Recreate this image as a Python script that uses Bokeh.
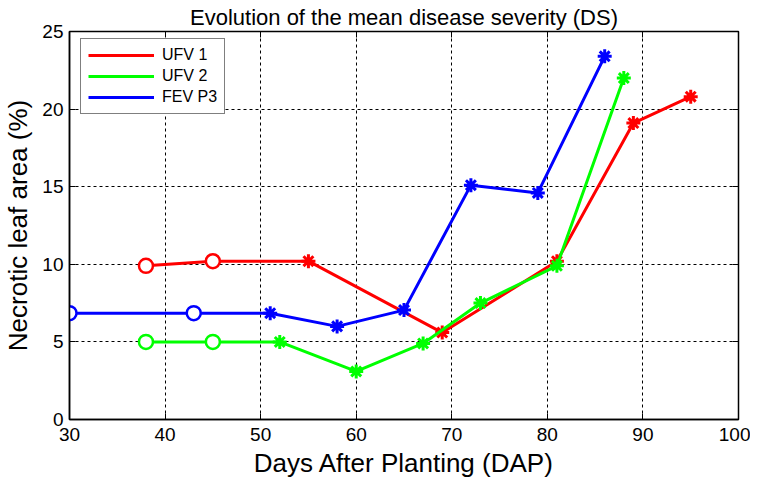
from bokeh.plotting import figure
from bokeh.models import LinearAxis, Legend, LegendItem, Range1d, FixedTicker
from bokeh.embed import file_html
from bokeh.resources import INLINE

# ---- data ----
ufv1_days = [38, 45, 55, 69, 81, 89, 95]
ufv1_ds = [9.9, 10.2, 10.2, 5.6, 10.2, 19.1, 20.8]
ufv2_days = [38, 45, 52, 60, 67, 73, 81, 88]
ufv2_ds = [5.0, 5.0, 5.0, 3.1, 4.9, 7.5, 9.9, 22.0]
fevp3_days = [30, 43, 51, 58, 65, 72, 79, 86]
fevp3_ds = [6.85, 6.85, 6.85, 6.0, 7.05, 15.1, 14.6, 23.4]
n_open = [2, 2, 2]  # first assessments drawn as open circles
series_names = ["UFV 1", "UFV 2", "FEV P3"]
series_colors = ["#FF0000", "#00FF00", "#0000FF"]
x_ticks = [30, 40, 50, 60, 70, 80, 90, 100]
y_ticks = [0, 5, 10, 15, 20, 25]

FONT = "Liberation Sans"

p = figure(width=750, height=480, x_range=Range1d(30, 100), y_range=Range1d(0, 25),
           output_backend="svg", toolbar_location=None,
           min_border_left=60, min_border_right=12, min_border_top=31, min_border_bottom=59)
p.title.text = "Evolution of the mean disease severity (DS)"
p.title.text_font = FONT
p.title.text_font_size = "22px"
p.title.text_font_style = "normal"
p.title.text_color = "black"
p.title.align = "center"
p.title.offset = 0
p.title.standoff = 3

p.outline_line_color = "black"
p.outline_line_width = 1.5
p.outline_line_alpha = 1

for ax in p.xaxis + p.yaxis:
    ax.major_label_text_font = FONT
    ax.major_label_text_font_size = "19px"
    ax.major_label_text_color = "black"
    ax.axis_label_text_font = FONT
    ax.axis_label_text_font_size = "26px"
    ax.axis_label_text_font_style = "normal"
    ax.axis_label_text_color = "black"
    ax.axis_line_color = "black"
    ax.axis_line_width = 1.5
    ax.major_tick_in = 6
    ax.major_tick_out = 0
    ax.major_tick_line_color = "black"
    ax.minor_tick_line_color = None

p.xaxis.ticker = FixedTicker(ticks=x_ticks)
p.yaxis.ticker = FixedTicker(ticks=y_ticks)
p.xaxis.axis_label = "Days After Planting (DAP)"
p.yaxis.axis_label = "Necrotic leaf area (%)"
p.xaxis.major_label_standoff = 8
p.yaxis.major_label_standoff = 6
p.xaxis.axis_label_standoff = 4
p.yaxis.axis_label_standoff = 6

# mirrored inward ticks on top and right
top = LinearAxis(ticker=FixedTicker(ticks=x_ticks), major_label_text_font_size="0px",
                 major_tick_in=6, major_tick_out=0, axis_line_color=None,
                 minor_tick_line_color=None, major_label_standoff=0)
right = LinearAxis(ticker=FixedTicker(ticks=y_ticks), major_label_text_font_size="0px",
                   major_tick_in=6, major_tick_out=0, axis_line_color=None,
                   minor_tick_line_color=None, major_label_standoff=0)
p.add_layout(top, "above")
p.add_layout(right, "right")

for g in p.grid:
    g.grid_line_color = "black"
    g.grid_line_dash = "3 3"
    g.grid_line_width = 1
    g.grid_line_alpha = 1
p.xgrid.ticker = FixedTicker(ticks=x_ticks)
p.ygrid.ticker = FixedTicker(ticks=y_ticks)

all_days = [ufv1_days, ufv2_days, fevp3_days]
all_ds = [ufv1_ds, ufv2_ds, fevp3_ds]
items = []
for name, color, xs, ys, k in zip(series_names, series_colors, all_days, all_ds, n_open):
    r = p.line(xs, ys, line_color=color, line_width=3)
    p.scatter(xs[:k], ys[:k], marker="circle", size=14, line_color=color,
              fill_color="white", line_width=2.5)
    p.scatter(xs[k:], ys[k:], marker="asterisk", size=14, line_color=color, line_width=3)
    items.append(LegendItem(label=name, renderers=[r]))

legend = Legend(items=items, location=(11, 305))
legend.label_text_font = FONT
legend.label_text_font_size = "16px"
legend.label_text_color = "black"
legend.glyph_width = 66
legend.glyph_height = 18
legend.label_height = 18
legend.label_standoff = 8
legend.spacing = 3
legend.padding = 7
legend.margin = 0
legend.border_line_color = "black"
legend.border_line_width = 1.5
legend.background_fill_color = "white"
legend.background_fill_alpha = 1
p.add_layout(legend, "center")

open("out.html", "w").write(file_html(p, INLINE))
